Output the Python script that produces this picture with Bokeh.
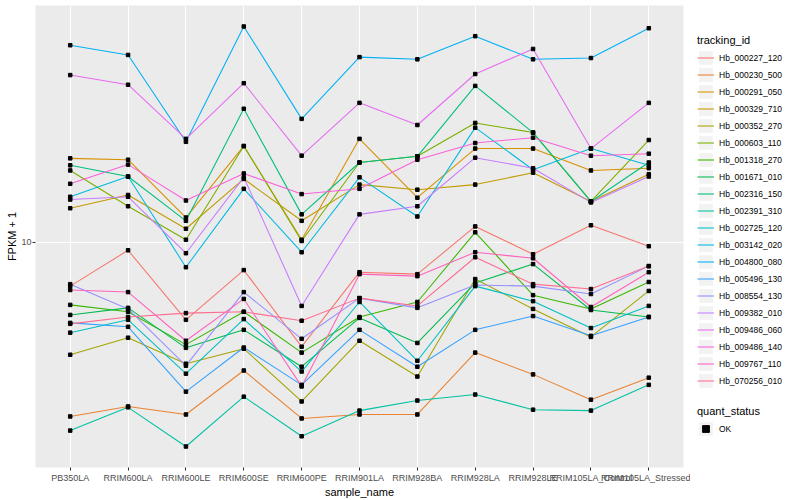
import math
from bokeh.plotting import figure
from bokeh.models import (FactorRange, Range1d, FixedTicker, Legend, LegendItem,
                          ColumnDataSource)
from bokeh.layouts import row
from bokeh.embed import file_html
from bokeh.resources import INLINE

samples = ["PB350LA", "RRIM600LA", "RRIM600LE", "RRIM600SE", "RRIM600PE",
           "RRIM901LA", "RRIM928BA", "RRIM928LA", "RRIM928LE",
           "RRIM105LA_Control", "RRIM105LA_Stressed"]

tracking_ids = ["Hb_000227_120", "Hb_000230_500", "Hb_000291_050", "Hb_000329_710",
                "Hb_000352_270", "Hb_000603_110", "Hb_001318_270", "Hb_001671_010",
                "Hb_002316_150", "Hb_002391_310", "Hb_002725_120", "Hb_003142_020",
                "Hb_004800_080", "Hb_005496_130", "Hb_008554_130", "Hb_009382_010",
                "Hb_009486_060", "Hb_009486_140", "Hb_009767_110", "Hb_070256_010"]

colors = ["#F8766D", "#EA8331", "#D89000", "#C09B00", "#A3A500", "#7CAE00",
          "#39B600", "#00BB4E", "#00BF7D", "#00C1A3", "#00BFC4", "#00BAE0",
          "#00B0F6", "#35A2FF", "#9590FF", "#C77CFF", "#E76BF3", "#FA62DB",
          "#FF62BC", "#FF6C91"]

# FPKM + 1 per sample (order of `samples`)
hb_000227_120 = [7.13, 9.40, 5.50, 8.07, 4.47, 7.94, 7.82, 11.3, 9.12, 11.4, 9.70]
hb_000230_500 = [2.61, 2.82, 2.65, 3.72, 2.57, 2.65, 2.65, 4.27, 3.61, 2.97, 3.52]
hb_000291_050 = [19.1, 18.9, 12.1, 21.0, 10.2, 22.2, 14.1, 20.6, 20.6, 17.4, 17.7]
hb_000329_710 = [13.0, 14.4, 11.1, 16.3, 11.8, 15.6, 15.0, 15.6, 17.1, 13.7, 16.9]
hb_000352_270 = [4.20, 4.79, 3.92, 4.40, 2.93, 4.68, 3.55, 7.53, 5.98, 4.82, 6.87]
hb_000603_110 = [17.4, 13.2, 10.2, 21.0, 10.1, 18.5, 19.4, 25.1, 23.3, 13.7, 22.0]
hb_001318_270 = [6.17, 5.85, 4.54, 5.85, 4.27, 5.62, 6.31, 10.8, 6.65, 5.98, 7.36]
hb_001671_010 = [5.71, 6.03, 4.43, 5.09, 3.83, 5.58, 4.60, 7.30, 8.45, 5.93, 5.62]
hb_002316_150 = [18.1, 16.6, 11.8, 28.0, 12.4, 18.5, 19.4, 33.4, 23.3, 13.7, 18.5]
hb_002391_310 = [2.34, 2.80, 2.07, 3.04, 2.24, 2.73, 2.95, 3.09, 2.75, 2.73, 3.33]
hb_002725_120 = [4.98, 5.50, 3.63, 5.53, 3.69, 6.31, 4.01, 7.13, 6.35, 5.16, 6.12]
hb_003142_020 = [14.2, 16.6, 8.25, 15.1, 9.26, 16.5, 12.2, 24.2, 17.5, 20.6, 18.1]
hb_004800_080 = [45.7, 42.4, 21.7, 52.8, 25.9, 41.7, 41.0, 49.0, 41.0, 41.4, 52.1]
hb_005496_130 = [5.37, 5.21, 3.16, 4.44, 3.33, 5.09, 3.83, 5.09, 5.66, 4.86, 5.62]
hb_008554_130 = [7.24, 5.98, 3.86, 6.81, 4.75, 6.50, 6.03, 7.19, 7.13, 6.71, 8.32]
hb_009382_010 = [13.9, 14.2, 9.19, 16.5, 6.12, 12.4, 13.2, 19.2, 17.7, 13.6, 16.6]
hb_009486_060 = [36.3, 33.7, 22.2, 34.1, 19.5, 29.3, 24.7, 36.6, 44.4, 20.6, 29.3]
hb_009486_140 = [15.7, 18.2, 13.8, 17.0, 14.5, 15.1, 18.9, 21.5, 22.4, 19.5, 19.8]
hb_009767_110 = [6.92, 6.81, 4.68, 6.46, 3.29, 7.82, 7.70, 9.26, 8.84, 6.07, 7.94]
hb_070256_010 = [5.33, 5.62, 5.79, 5.85, 5.46, 6.50, 6.12, 8.91, 7.24, 6.97, 8.32]

series_values = [hb_000227_120, hb_000230_500, hb_000291_050, hb_000329_710,
                 hb_000352_270, hb_000603_110, hb_001318_270, hb_001671_010,
                 hb_002316_150, hb_002391_310, hb_002725_120, hb_003142_020,
                 hb_004800_080, hb_005496_130, hb_008554_130, hb_009382_010,
                 hb_009486_060, hb_009486_140, hb_009767_110, hb_070256_010]

y_ticks = [10]
quant_levels = ["OK"]

FONT = "Liberation Sans"

all_vals = [v for s in series_values for v in s]
lmin, lmax = math.log10(min(all_vals)), math.log10(max(all_vals))
pad = 0.05 * (lmax - lmin)

p = figure(width=690, height=500,
           x_range=FactorRange(factors=samples, range_padding=0.1,
                               range_padding_units="absolute"),
           y_axis_type="log",
           y_range=Range1d(10 ** (lmin - pad), 10 ** (lmax + pad)),
           output_backend="svg", toolbar_location=None,
           min_border_left=35, min_border_right=7, min_border_top=5,
           min_border_bottom=32,
           background_fill_color="#EBEBEB", border_fill_color="white",
           outline_line_color=None)

p.xgrid.grid_line_color = "white"
p.xgrid.grid_line_width = 1.07
p.ygrid.grid_line_color = "white"
p.ygrid.grid_line_width = 1.07
p.yaxis.ticker = FixedTicker(ticks=y_ticks)
p.ygrid.ticker = FixedTicker(ticks=y_ticks)
p.ygrid.minor_grid_line_color = None
p.yaxis.major_label_overrides = {10: "10"}

for ax in (p.xaxis, p.yaxis):
    ax.axis_line_color = None
    ax.major_tick_line_color = "#333333"
    ax.major_tick_line_width = 1.07
    ax.major_tick_out = 3
    ax.major_tick_in = 0
    ax.minor_tick_line_color = None
    ax.major_label_text_font = FONT
    ax.major_label_text_font_size = "9px"
    ax.major_label_text_color = "#4D4D4D"
    ax.axis_label_text_font = FONT
    ax.axis_label_text_font_size = "11px"
    ax.axis_label_text_font_style = "normal"
    ax.axis_label_text_color = "black"
p.xaxis.major_label_standoff = 2
p.xaxis.axis_label_standoff = 0
p.yaxis.major_label_standoff = 1
p.yaxis.axis_label_standoff = 0

p.xaxis.axis_label = "sample_name"
p.yaxis.axis_label = "FPKM + 1"

for vals, c in zip(series_values, colors):
    p.line(x=samples, y=vals, line_color=c, line_width=1.07)
for vals in series_values:
    p.scatter(x=samples, y=vals, marker="square", size=3.5, color="black")

# legend panel
p2 = figure(width=110, height=500, x_range=Range1d(0, 1), y_range=Range1d(0, 1),
            output_backend="svg", toolbar_location=None,
            x_axis_location=None, y_axis_location=None,
            min_border_left=7, min_border_right=0, min_border_top=5,
            min_border_bottom=32, outline_line_color=None,
            background_fill_color="white", border_fill_color="white")
p2.grid.visible = False

off = ColumnDataSource(dict(x=[-3, -2], y=[-3, -2]))
items = []
for tid, c in zip(tracking_ids, colors):
    bg = p2.rect(x="x", y="y", width=0.1, height=0.1, source=off,
                 fill_color="#F2F2F2", line_color=None)
    ln = p2.line(x="x", y="y", source=off, line_color=c, line_width=1.07)
    items.append(LegendItem(label=tid, renderers=[bg, ln]))

common = dict(margin=0, padding=0, spacing=0, glyph_width=17, glyph_height=17,
              label_height=17, label_standoff=5, label_text_font=FONT,
              label_text_font_size="8.5px", label_text_color="black",
              title_text_font=FONT, title_text_font_size="11px",
              title_text_font_style="normal", title_text_color="black",
              title_standoff=3, border_line_color=None,
              background_fill_alpha=0)

leg1 = Legend(items=items, title="tracking_id", location=(0, 78), **common)
p2.add_layout(leg1)

items2 = []
for q in quant_levels:
    bg2 = p2.rect(x="x", y="y", width=0.1, height=0.1, source=off,
                  fill_color="#F2F2F2", line_color=None)
    sq = p2.scatter(x="x", y="y", source=off, marker="square", size=4,
                    color="black")
    items2.append(LegendItem(label=q, renderers=[bg2, sq]))
leg2 = Legend(items=items2, title="quant_status", location=(0, 30), **common)
p2.add_layout(leg2)

layout = row(p, p2)
open("out.html", "w").write(file_html(layout, INLINE))
